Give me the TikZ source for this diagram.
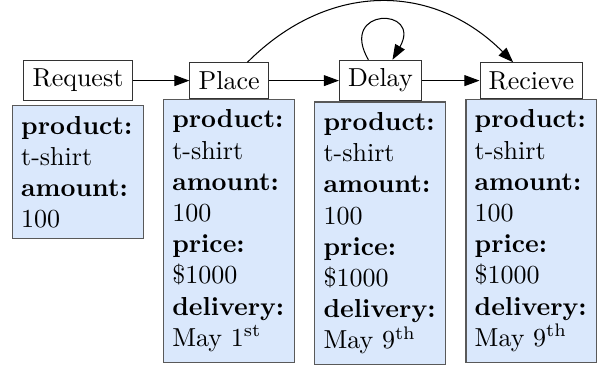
\documentclass[tikz,border=0pt]{standalone}
\usetikzlibrary{arrows.meta}
\definecolor{attrfill}{HTML}{DAE8FC}
\begin{document}
\begin{tikzpicture}[x=1pt,y=1pt,
  lbl/.style={draw=black!80, fill=white, inner sep=3.33pt},
  attr/.style={draw=black!65, fill=attrfill, text width=43.7pt, align=left,
    inner xsep=3.33pt, inner ysep=4pt, anchor=north},
  arr/.style={-{Triangle[length=5.8pt,width=4.2pt]}, black}]
\useasboundingbox (0,-140) rectangle (229.6,0);
\node[lbl] (request) at (30.0,-31) {Request};
\node[lbl] (place) at (88.1,-31) {Place};
\node[lbl] (delay) at (146.3,-31) {Delay};
\node[lbl] (recieve) at (204.4,-31) {Recieve};
\node[attr] (requestattr) at ([yshift=-1.5pt]request.south)
  {\textbf{product:}\\t-shirt\\\textbf{amount:}\\100};
\node[attr] (placeattr) at (place.south)
  {\textbf{product:}\\t-shirt\\\textbf{amount:}\\100\\\textbf{price:}\\\$1000\\\textbf{delivery:}\\May 1\textsuperscript{st}};
\node[attr] (delayattr) at (delay.south)
  {\textbf{product:}\\t-shirt\\\textbf{amount:}\\100\\\textbf{price:}\\\$1000\\\textbf{delivery:}\\May 9\textsuperscript{th}};
\node[attr] (recieveattr) at (recieve.south)
  {\textbf{product:}\\t-shirt\\\textbf{amount:}\\100\\\textbf{price:}\\\$1000\\\textbf{delivery:}\\May 9\textsuperscript{th}};
\draw[arr] (request) -- (place);
\draw[arr] (place) -- (delay);
\draw[arr] (delay) -- (recieve);
\draw[arr] (place) to[out=45,in=135,looseness=1.1] (recieve);
\draw[arr] (delay) to[out=120,in=60,looseness=6.5] (delay);
\end{tikzpicture}
\end{document}
